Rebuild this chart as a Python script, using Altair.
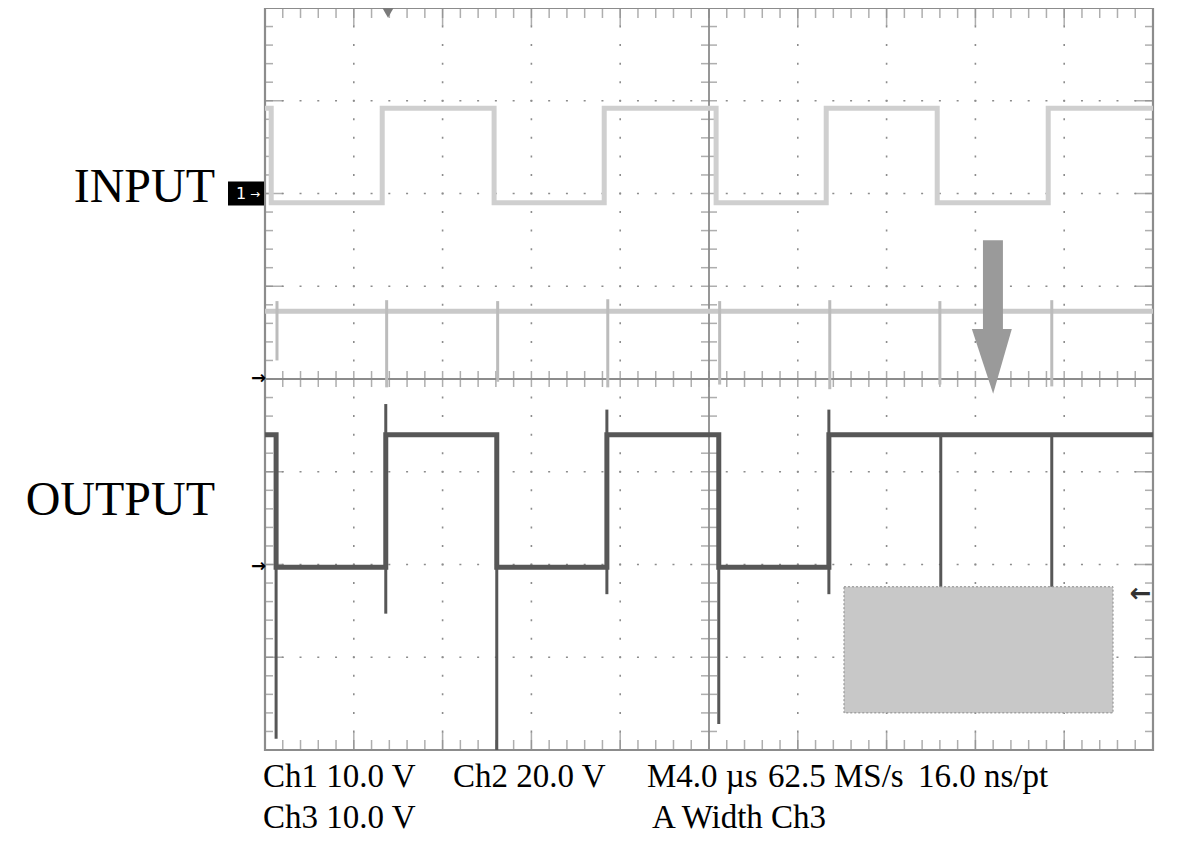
import altair as alt
import pandas as pd

# ---------------- data (graticule units: x 0..10 div, y -4..4 div) ----------------
# Ch1 (INPUT) square wave
in_edges = [0.07, 1.32, 2.58, 3.82, 5.08, 6.32, 7.57, 8.82]
in_high = 2.92
in_low = 1.90

# Ch2 trace: flat level with a spike at every input edge
ch2_level = 0.73
ch2_spike_t = [0.135, 1.37, 2.62, 3.86, 5.12, 6.36, 7.60, 8.86]
ch2_spike_low = [0.20, -0.09, -0.03, -0.09, -0.06, -0.11, -0.06, -0.08]
ch2_spike_high = [0.84, 0.85, 0.84, 0.86, 0.84, 0.85, 0.84, 0.85]

# Ch3 (OUTPUT) square wave
out_edges = [0.125, 1.36, 2.61, 3.85, 5.11, 6.35]
out_high = -0.60
out_low = -2.03
out_spike_t = [0.125, 1.36, 2.61, 3.85, 5.11, 6.35, 7.61, 8.86]
out_spike_top = [-0.60, -0.27, -0.60, -0.33, -0.60, -0.33, -0.60, -0.60]
out_spike_bottom = [-3.88, -2.53, -4.00, -2.32, -3.72, -2.32, -2.45, -2.45]

# grey masking box, arrow, markers
box_t = [6.52, 9.55]
box_v = [-3.60, -2.24]
arrow_shaft_t = [8.085, 8.31]
arrow_shaft_v = [0.54, 1.495]
arrow_head_t = [7.96, 8.20, 8.41]
arrow_head_v = [0.54, -0.16, 0.54]
trigger_t = [1.385]
ch1_ground = 2.0
ch3_ground = -2.03
ch2_ground = 0.0
right_marker_t = [9.86]
right_marker_v = [-2.32]

labels_left = ["INPUT", "OUTPUT"]
status_row1 = ["Ch1 10.0 V", "Ch2 20.0 V", "M4.0 \u00b5s", "62.5 MS/s", "16.0 ns/pt"]
status_row2 = ["Ch3 10.0 V", "A Width Ch3"]

# graticule structure
major_x = [1, 2, 3, 4, 6, 7, 8, 9]
major_y = [-3, -2, -1, 1, 2, 3]
minor_x = [round(i * 0.2, 2) for i in range(51)]
minor_y = [round(-4 + i * 0.2, 2) for i in range(41)]


def step_points(edges, first, second):
    pts = [(0.0, first)]
    level = first
    for e in edges:
        other = second if level == first else first
        pts.append((e, level))
        pts.append((e, other))
        level = other
    pts.append((10.0, level))
    return pd.DataFrame({"t": [p[0] for p in pts], "v": [p[1] for p in pts],
                         "i": list(range(len(pts)))})


GRID = "#8c8c8c"
W, H = 888, 742
xs = alt.Scale(domain=[0, 10], nice=False, zero=False)
ys = alt.Scale(domain=[-4, 4], nice=False, zero=False)


def X(f):
    return alt.X(f, type="quantitative", scale=xs, axis=None)


def Y(f):
    return alt.Y(f, type="quantitative", scale=ys, axis=None)


layers = []

# dotted grid lines
layers.append(alt.Chart(pd.DataFrame({"v": major_y, "x0": 0, "x1": 10})).mark_rule(
    color=GRID, strokeWidth=1.6, strokeDash=[2, 15.76], strokeDashOffset=1
).encode(x=X("x0"), x2="x1", y=Y("v")))
layers.append(alt.Chart(pd.DataFrame({"t": major_x, "y0": -4, "y1": 4})).mark_rule(
    color=GRID, strokeWidth=1.6, strokeDash=[2, 16.55], strokeDashOffset=1
).encode(x=X("t"), y=Y("y0"), y2="y1"))

# centre cross
layers.append(alt.Chart(pd.DataFrame({"v": [0], "x0": 0, "x1": 10})).mark_rule(
    color=GRID, strokeWidth=1.8).encode(x=X("x0"), x2="x1", y=Y("v")))
layers.append(alt.Chart(pd.DataFrame({"t": [5], "y0": -4, "y1": 4})).mark_rule(
    color=GRID, strokeWidth=1.8).encode(x=X("t"), y=Y("y0"), y2="y1"))

# ticks on border (pointing inward) and on the centre cross
dfx = pd.DataFrame({"t": minor_x})
dfy = pd.DataFrame({"v": minor_y})
dmx = pd.DataFrame({"t": major_x})
dmy = pd.DataFrame({"v": major_y})
for v, off in [(4, 5), (-4, -5)]:
    layers.append(alt.Chart(dfx).mark_tick(orient="vertical", size=10, thickness=1.5,
                                           color=GRID, yOffset=off)
                  .encode(x=X("t"), y=alt.Y(datum=v, scale=ys, axis=None)))
    layers.append(alt.Chart(dmx).mark_tick(orient="vertical", size=18, thickness=1.5,
                                           color=GRID, yOffset=off * 9 / 5)
                  .encode(x=X("t"), y=alt.Y(datum=v, scale=ys, axis=None)))
for t, off in [(0, 4), (10, -4)]:
    layers.append(alt.Chart(dfy).mark_tick(orient="horizontal", size=8, thickness=1.5,
                                           color=GRID, xOffset=off)
                  .encode(y=Y("v"), x=alt.X(datum=t, scale=xs, axis=None)))
    layers.append(alt.Chart(dmy).mark_tick(orient="horizontal", size=18, thickness=1.5,
                                           color=GRID, xOffset=off * 9 / 4)
                  .encode(y=Y("v"), x=alt.X(datum=t, scale=xs, axis=None)))
layers.append(alt.Chart(dfx).mark_tick(orient="vertical", size=16, thickness=1.5, color=GRID)
              .encode(x=X("t"), y=alt.Y(datum=0, scale=ys, axis=None)))
layers.append(alt.Chart(dfy).mark_tick(orient="horizontal", size=16, thickness=1.5, color=GRID)
              .encode(y=Y("v"), x=alt.X(datum=5, scale=xs, axis=None)))

# border
layers.append(alt.Chart(pd.DataFrame({"x0": [0], "x1": [10], "y0": [-4], "y1": [4]})).mark_rect(
    fillOpacity=0, stroke=GRID, strokeWidth=2.2
).encode(x=X("x0"), x2="x1", y=Y("y0"), y2="y1"))

# trigger marker
layers.append(alt.Chart(pd.DataFrame({"t": trigger_t, "v": [4]})).mark_point(
    shape="triangle-down", filled=True, size=170, color="#7a7a7a", opacity=1, yOffset=4
).encode(x=X("t"), y=Y("v")))

# Ch1 input trace
in_df = step_points(in_edges, in_high, in_low)
layers.append(alt.Chart(in_df).mark_line(color="#cfcfcf", strokeWidth=5).encode(
    x=X("t"), y=Y("v"), order="i:Q"))

# Ch2 trace
layers.append(alt.Chart(pd.DataFrame({"v": [ch2_level], "x0": 0, "x1": 10})).mark_rule(
    color="#c9c9c9", strokeWidth=5).encode(x=X("x0"), x2="x1", y=Y("v")))
layers.append(alt.Chart(pd.DataFrame({"t": ch2_spike_t, "lo": ch2_spike_low,
                                      "hi": ch2_spike_high})).mark_rule(
    color="#bcbcbc", strokeWidth=3).encode(x=X("t"), y=Y("lo"), y2="hi"))

# Ch3 output trace
out_df = step_points(out_edges, out_high, out_low)
layers.append(alt.Chart(out_df).mark_line(color="#575757", strokeWidth=5).encode(
    x=X("t"), y=Y("v"), order="i:Q"))
layers.append(alt.Chart(pd.DataFrame({"t": out_spike_t, "lo": out_spike_bottom,
                                      "hi": out_spike_top})).mark_rule(
    color="#575757", strokeWidth=3).encode(x=X("t"), y=Y("lo"), y2="hi"))

# grey box
layers.append(alt.Chart(pd.DataFrame({"x0": [box_t[0]], "x1": [box_t[1]],
                                      "y0": [box_v[0]], "y1": [box_v[1]]})).mark_rect(
    color="#c8c8c8", stroke="#8a8a8a", strokeWidth=1, strokeDash=[2, 2]
).encode(x=X("x0"), x2="x1", y=Y("y0"), y2="y1"))

# grey arrow
layers.append(alt.Chart(pd.DataFrame({"x0": [arrow_shaft_t[0]], "x1": [arrow_shaft_t[1]],
                                      "y0": [arrow_shaft_v[0]], "y1": [arrow_shaft_v[1]]})).mark_rect(
    color="#9a9a9a").encode(x=X("x0"), x2="x1", y=Y("y0"), y2="y1"))
layers.append(alt.Chart(pd.DataFrame({"t": arrow_head_t, "lo": arrow_head_v,
                                      "hi": [arrow_shaft_v[0]] * 3})).mark_area(
    color="#9a9a9a", opacity=1).encode(x=X("t"), y=Y("lo"), y2="hi"))

# channel markers on the left
layers.append(alt.Chart(pd.DataFrame({"a": [ch1_ground + 0.13], "b": [ch1_ground - 0.13]})).mark_rect(
    color="#000000").encode(x=alt.value(-37), x2=alt.value(-1), y=Y("a"), y2="b"))
layers.append(alt.Chart(pd.DataFrame({"v": [ch1_ground], "s": ["1"]})).mark_text(
    color="#ffffff", font="DejaVu Sans", fontSize=16, align="center", baseline="middle"
).encode(x=alt.value(-24), y=Y("v"), text="s:N"))
layers.append(alt.Chart(pd.DataFrame({"v": [ch1_ground], "s": ["\u2192"]})).mark_text(
    color="#ffffff", font="DejaVu Sans", fontSize=12, align="center", baseline="middle"
).encode(x=alt.value(-10), y=Y("v"), text="s:N"))
layers.append(alt.Chart(pd.DataFrame({"v": [ch2_ground, ch3_ground], "s": ["\u2192", "\u2192"]})).mark_text(
    color="#000000", font="DejaVu Sans", fontSize=18, fontWeight="bold", align="right",
    baseline="middle").encode(x=alt.value(1), y=Y("v"), text="s:N"))
layers.append(alt.Chart(pd.DataFrame({"t": right_marker_t, "v": right_marker_v, "s": ["\u2190"]})).mark_text(
    color="#333333", font="DejaVu Sans", fontSize=26, fontWeight="bold", align="center",
    baseline="middle").encode(x=X("t"), y=Y("v"), text="s:N"))

# INPUT / OUTPUT labels
for label, ypx in zip(labels_left, [194, 507]):
    layers.append(alt.Chart(pd.DataFrame({"s": [label]})).mark_text(
        font="Liberation Serif", fontSize=48, color="#000000", align="right",
        baseline="alphabetic").encode(x=alt.value(-50), y=alt.value(ypx), text="s:N"))

# status lines below the graticule
for s, xpx in zip(status_row1, [-2, 188, 382, 503, 653]):
    layers.append(alt.Chart(pd.DataFrame({"s": [s]})).mark_text(
        font="Liberation Serif", fontSize=33, color="#000000", align="left",
        baseline="alphabetic").encode(x=alt.value(xpx), y=alt.value(779), text="s:N"))
for s, xpx in zip(status_row2, [-2, 387]):
    layers.append(alt.Chart(pd.DataFrame({"s": [s]})).mark_text(
        font="Liberation Serif", fontSize=33, color="#000000", align="left",
        baseline="alphabetic").encode(x=alt.value(xpx), y=alt.value(820), text="s:N"))

chart = alt.layer(*layers).properties(
    width=W, height=H,
    padding={"left": 257, "top": 0, "right": 20, "bottom": 87},
    autosize="none",
    background="#ffffff",
).configure_view(strokeWidth=0)

chart.save("out.html", embed_options={"renderer": "svg", "actions": False})
